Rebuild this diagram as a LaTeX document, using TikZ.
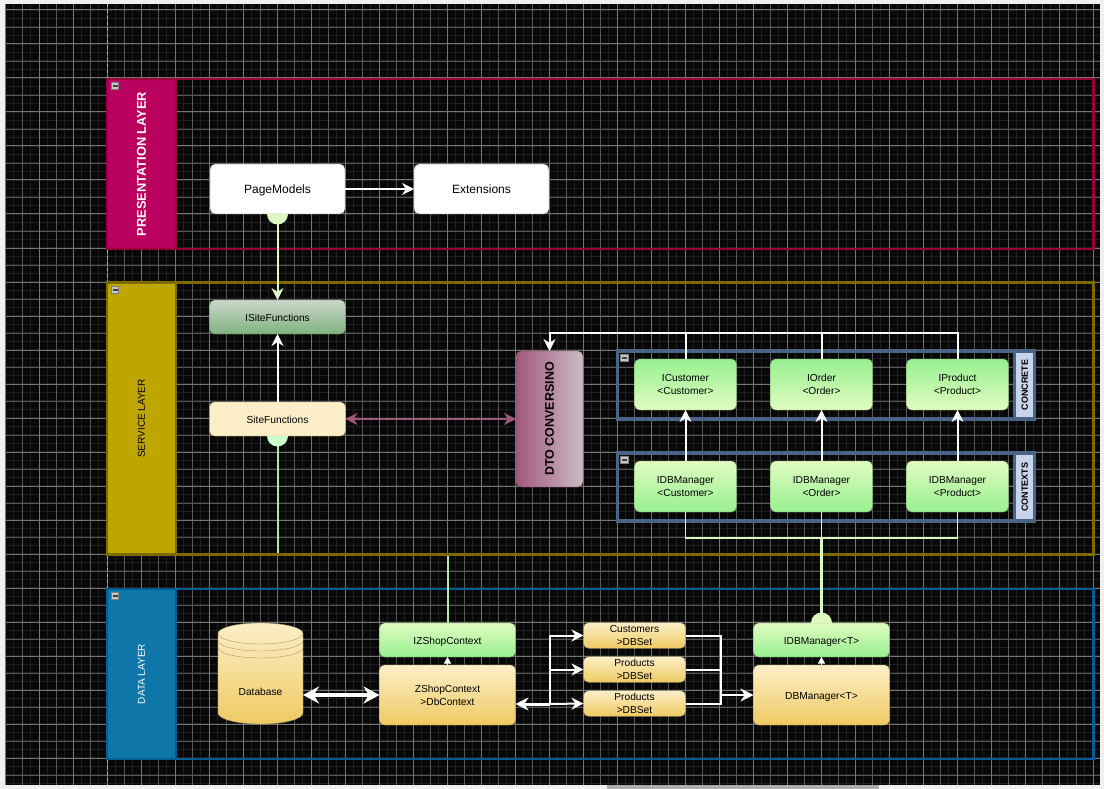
\documentclass[tikz,border=0pt]{standalone}
\usepackage{fontspec}
\setmainfont{Liberation Sans}
\usetikzlibrary{arrows.meta, positioning, calc}

\definecolor{lanered}{HTML}{B9005F}
\definecolor{lanereddark}{HTML}{98003C}
\definecolor{laneolive}{HTML}{BFA500}
\definecolor{laneolivedark}{HTML}{7F6A00}
\definecolor{laneblue}{HTML}{0E76A8}
\definecolor{lanebluedark}{HTML}{005C94}
\definecolor{groupedge}{HTML}{4A6488}
\definecolor{groupfill}{HTML}{C8D4EC}
\definecolor{palelink}{HTML}{DDF8C0}
\definecolor{softlink}{HTML}{B2E4B2}
\definecolor{dtolink}{HTML}{A0587A}
\definecolor{dtolight}{HTML}{CDBBC7}
\definecolor{goldtop}{HTML}{FCEFC8}
\definecolor{goldlow}{HTML}{EFCA62}
\definecolor{goldedge}{HTML}{AE9A62}
\definecolor{greentop}{HTML}{98F090}
\definecolor{greenlow}{HTML}{E0FCC0}
\definecolor{greenedge}{HTML}{6E9A5E}

\newcommand{\socketdown}[2]{\fill[#2] (#1.south) ++(-10.5pt,0) arc[start angle=180, end angle=360, radius=10.5pt] -- cycle;}
\newcommand{\socketup}[2]{\fill[#2] (#1.north) ++(-10.5pt,0) arc[start angle=180, end angle=0, radius=10.5pt] -- cycle;}

\tikzset{
  smalltext/.style={font=\fontsize{10.2}{13}\selectfont, align=center, text=black},
  box/.style={draw, rounded corners=5pt, outer sep=0, inner sep=0, smalltext},
  oneline/.style={text height=10.6pt, text depth=2pt},
  whitebox/.style={box, draw=black!60, fill=white, minimum width=135pt, minimum height=50pt,
    font=\fontsize{12}{14}\selectfont, text height=11.6pt, text depth=2.6pt},
  goldbox/.style={box, draw=goldedge, top color=goldtop, bottom color=goldlow},
  greendown/.style={box, draw=greenedge, top color=greentop, bottom color=greenlow},
  greenup/.style={box, draw=greenedge, top color=greenlow, bottom color=greentop},
  lanehead/.style={draw=#1, line width=2.5pt, minimum width=69pt, anchor=north west, outer sep=0, inner sep=0},
  laneframe/.style={draw=#1, line width=2.5pt, minimum width=986.5pt, anchor=north west, outer sep=0, inner sep=0},
  lanetitle/.style={rotate=90, font=\fontsize{10}{12}\selectfont},
  groupframe/.style={draw=groupedge, line width=3.3pt, minimum width=417pt, minimum height=68pt, anchor=north west, outer sep=0},
  grouphead/.style={draw=groupedge, line width=3.3pt, fill=groupfill, minimum width=20pt, minimum height=68pt,
    anchor=north west, outer sep=0, inner sep=0},
  collapser/.style={draw=black!50, fill=black!22, minimum size=7.5pt, inner sep=0, line width=.7pt,
    path picture={\fill[black!75] ([xshift=-2.5pt,yshift=-1pt]path picture bounding box.center)
      rectangle ([xshift=2.5pt,yshift=1pt]path picture bounding box.center);}},
  flow/.style={draw=white, line width=2pt, -{Stealth[length=12pt, width=12pt]}},
  flowthin/.style={draw=white, line width=2pt},
  flowbig/.style={draw=white, line width=3.4pt, {Stealth[length=16pt, width=17pt]}-{Stealth[length=16pt, width=17pt]}},
  nub/.style={draw=white, line width=.6pt, -{Triangle[length=6.5pt, width=7pt]}},
  palewire/.style={draw=palelink, line width=1.6pt},
}

\begin{document}
\begin{tikzpicture}[x=1pt, y=-1pt]
  \useasboundingbox (0,0) rectangle (1104,789);
  \fill[black!6] (0,0) rectangle (1104,789);
  \fill[black!32] (607,785) rectangle (879,789);
  \fill[black!97] (5,4) rectangle (1100,785);

  % Grid
  \foreach \x in {5.3,13.8,...,1100}
    \draw[black!88, line width=1.2pt] (\x,4) -- (\x,785);
  \foreach \y in {10,18.5,...,785}
    \draw[black!88, line width=1.2pt] (5,\y) -- (1100,\y);
  \foreach \x in {22.3,56.3,...,1100}
    \draw[black!66, line width=.9pt] (\x,4) -- (\x,785);
  \foreach \y in {27,61,...,785}
    \draw[black!66, line width=.9pt] (5,\y) -- (1100,\y);
  \foreach \x in {5.3,39.3,...,1100}
    \draw[black!54, line width=1pt] (\x,4) -- (\x,785);
  \foreach \y in {10,44,...,785}
    \draw[black!54, line width=1pt] (5,\y) -- (1100,\y);
  \draw[black!30, line width=.8pt, dashed] (107.3,4) -- (107.3,785);

  % Lanes
  \node[laneframe=lanereddark, minimum height=170pt] (presentlane) at (107,79) {};
  \node[lanehead=lanereddark, fill=lanered, minimum height=170pt] (presenthead) at (107,79) {};
  \node[lanetitle, text=white, font=\fontsize{12.8}{14}\bfseries] (presenttitle) at (presenthead.center) {PRESENTATION LAYER};
  \node[laneframe=lanebluedark, minimum height=170pt] (datalane) at (107,589) {};
  \node[lanehead=lanebluedark, fill=laneblue, minimum height=170pt] (datahead) at (107,589) {};
  \node[lanetitle, text=white] (datatitle) at (datahead.center) {DATA LAYER};

  % Boxes
  \node[whitebox] (pagemodels) at (277.5,189) {PageModels};
  \node[whitebox, right=69pt of pagemodels] (extensions) {Extensions};
  \node[box, oneline, draw=greenedge!80!black, top color=green!20!black!20!white, bottom color=green!40!black!50!white,
    minimum width=136pt, minimum height=34pt] (isitefn) at (277.5,317) {ISiteFunctions};
  \node[box, oneline, draw=goldedge, fill=goldtop, minimum width=136pt, minimum height=34pt] (sitefn) at (277.5,419) {SiteFunctions};
  \node[box, draw=dtolink!70!black, left color=dtolink, right color=dtolight, minimum width=67pt, minimum height=136pt] (dto) at (549.5,419) {};
  \node[rotate=90, font=\fontsize{12.5}{14}\bfseries] (dtotitle) at (dto.center) {DTO CONVERSINO};

  \node[groupframe] (concretegroup) at (617.7,351) {};
  \node[grouphead] (concretehead) at (1014.7,351) {};
  \node[rotate=90, font=\fontsize{9}{10}\bfseries] (concretetitle) at (concretehead.center) {CONCRETE};
  \node[groupframe] (contextgroup) at (617.7,453) {};
  \node[grouphead] (contexthead) at (1014.7,453) {};
  \node[rotate=90, font=\fontsize{9}{10}\bfseries] (contexttitle) at (contexthead.center) {CONTEXTS};

  \foreach \i/\lbl/\x in {cust/Customer/685.5, ord/Order/821.5, prod/Product/957.5}{%
    \node[greendown, minimum width=102pt, minimum height=51pt] (iface\i) at (\x,384.5) {I\lbl\\<\lbl>};
    \node[greenup, minimum width=102pt, minimum height=51pt] (ctx\i) at (\x,486.5) {IDBManager\\<\lbl>};
  };

  \node[greenup, oneline, minimum width=136pt, minimum height=34pt] (izshop) at (447.5,640) {IZShopContext};
  \node[goldbox, minimum width=136pt, minimum height=60pt] (zshop) at (447.5,695) {ZShopContext\\>DbContext};
  \node[goldbox, minimum width=102pt, minimum height=25.5pt] (dbsetcust) at (634.5,635.5) {Customers\\>DBSet};
  \node[goldbox, minimum width=102pt, minimum height=25.5pt] (dbsetprod) at (634.5,669.5) {Products\\>DBSet};
  \node[goldbox, minimum width=102pt, minimum height=25.5pt] (dbsetprodb) at (634.5,703.5) {Products\\>DBSet};
  \node[greenup, oneline, minimum width=136pt, minimum height=34pt] (idbmgr) at (821.5,640) {IDBManager<T>};
  \node[goldbox, oneline, minimum width=136pt, minimum height=60pt] (dbmgr) at (821.5,695) {DBManager<T>};

  % Database drum
  \node[minimum width=85pt, minimum height=101pt, outer sep=0, inner sep=0] (database) at (260.5,673.5) {};
  \shade[draw=goldedge, top color=goldtop, bottom color=goldlow]
    ([yshift=-10.5pt]database.north west) arc[start angle=180, end angle=0, x radius=42.5pt, y radius=10.5pt]
    -- ([yshift=11pt]database.south east) arc[start angle=0, end angle=-180, x radius=42.5pt, y radius=11pt] -- cycle;
  \foreach \d in {10.5, 17.5, 24.5}
    \draw[goldedge] ([yshift=-\d pt]database.north west) arc[start angle=180, end angle=360, x radius=42.5pt, y radius=10.5pt];
  \node[smalltext, below=11pt of database.center] (databaselabel) {Database};

  % Link that runs under the service lane edge
  \coordinate (svcbend) at (izshop.north |- 0,554.5);
  \draw[draw=softlink, line width=2pt] (sitefn.south) |- (svcbend) -- (izshop.north);
  \socketdown{sitefn}{green!20!white}

  \node[laneframe=laneolivedark, minimum height=272pt] (servicelane) at (107,282.5) {};
  \node[lanehead=laneolivedark, fill=laneolive, minimum height=272pt] (servicehead) at (107,282.5) {};
  \node[lanetitle, text=black] (servicetitle) at (servicehead.center) {SERVICE LAYER};

  % Collapse buttons
  \node[collapser] (presentbtn) at (115,86) {};
  \node[collapser] (servicebtn) at (115,290) {};
  \node[collapser] (databtn) at (115,596) {};
  \node[collapser] (concretebtn) at (624.5,358) {};
  \node[collapser] (contextbtn) at (624.5,460) {};

  % Connect the upper boxes
  \draw[flow] (pagemodels) -- (extensions);
  \draw[palelink, line width=2pt, -{Stealth[length=12pt, width=12pt]}] (pagemodels.south) -- (isitefn.north);
  \socketdown{pagemodels}{palelink}
  \draw[flow] (sitefn.north) -- (isitefn.south);
  \draw[dtolink, line width=2.2pt, {Stealth[length=12pt, width=12pt]}-{Stealth[length=12pt, width=12pt]}] (sitefn) -- (dto);

  \coordinate[above=18pt of dto.north] (dtotop);
  \draw[flow] (ifacecust.north) |- (dtotop) -- (dto.north);
  \foreach \i in {ord, prod}{%
    \draw[flowthin] (iface\i.north) |- (dtotop);
  };
  \foreach \i in {cust, ord, prod}{%
    \draw[flow] (ctx\i.north) -- (iface\i.south);
  };

  % Connect the manager interfaces
  \coordinate (ctxjoin) at (ctxord.south |- 0,538);
  \draw[palewire] (ctxcust.south) |- (ctxjoin) -| (ctxprod.south);
  \draw[palewire] (ctxord.south) -- (ctxjoin);
  \draw[palelink, line width=2.5pt] (ctxjoin) -- (idbmgr.north);
  \socketup{idbmgr}{palelink}

  % Connect the data layer
  \draw[nub] (zshop.north) -- (izshop.south);
  \draw[nub] (dbmgr.north) -- (idbmgr.south);
  \draw[flowbig] (database.east |- zshop.west) -- (zshop.west);

  \coordinate (setfork) at (550,704);
  \draw[draw=white, line width=3pt, {Stealth[length=13pt, width=13pt]}-] (zshop.east |- setfork) -- (setfork);
  \draw[flow] (setfork) |- (dbsetcust.west);
  \draw[flow] (setfork |- dbsetprod.west) -- (dbsetprod.west);
  \draw[flow] (setfork) -- (dbsetprodb.west);

  \coordinate[left=33pt of dbmgr.west] (setjoin);
  \draw[flowthin] (dbsetcust.east) -| (setjoin);
  \draw[flowthin] (dbsetprod.east) -| (setjoin);
  \draw[flowthin] (dbsetprodb.east) -| (setjoin);
  \draw[draw=white, line width=2.5pt, -{Stealth[length=13pt, width=13pt]}] (setjoin) -- (dbmgr.west);
\end{tikzpicture}
\end{document}
